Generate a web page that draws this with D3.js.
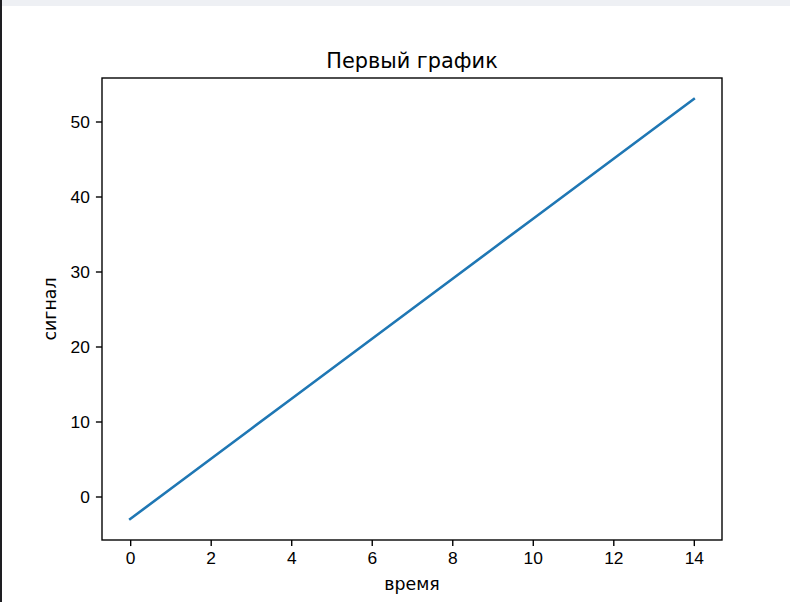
<!DOCTYPE html>
<html>
<head>
    <meta charset="utf-8">
    <title>Первый график</title>
    <style>
        body { margin: 0; background: #fff; }
        svg { display: block; font-family: "DejaVu Sans", sans-serif; }
        .axis text { font-size: 17.36px; fill: #000; }
        .axis line, .axis path { stroke: #000; stroke-width: 1.39px; }
        .frame { fill: none; stroke: #000; stroke-width: 1.39px; }
        .series { fill: none; stroke: #1f77b4; stroke-width: 2.6px; stroke-linecap: square; }
    </style>
    <script src="https://cdn.jsdelivr.net/npm/d3@7"></script>
</head>
<body>
    <svg width="790" height="602"></svg>
    <script>
        // Data
        var times = [0, 1, 2, 3, 4, 5, 6, 7, 8, 9, 10, 11, 12, 13, 14];
        var signal = [-3, 1, 5, 9, 13, 17, 21, 25, 29, 33, 37, 41, 45, 49, 53];
        var xTicks = [0, 2, 4, 6, 8, 10, 12, 14];
        var yTicks = [0, 10, 20, 30, 40, 50];

        var svg = d3.select("svg");

        // screenshot chrome: grey strip on top, dark strip on the left
        svg.append("rect").attr("x", 0).attr("y", 0).attr("width", 790).attr("height", 6).attr("fill", "#eef0f4");
        svg.append("rect").attr("x", 0).attr("y", 0).attr("width", 2).attr("height", 602).attr("fill", "#1e1e22");

        // axes box (names avoid window.top)
        var plotLeft = 102, plotRight = 722, plotTop = 78, plotBottom = 540;
        var tickLen = 6.08;

        var x = d3.scaleLinear().domain([-0.7, 14.7]).range([plotLeft, plotRight]);
        var y = d3.scaleLinear().domain([-5.8, 55.8]).range([plotBottom, plotTop]);

        var line = d3.line()
            .x(function (d, i) { return x(times[i]); })
            .y(function (d) { return y(d); });

        svg.append("path")
            .datum(signal)
            .attr("class", "series")
            .attr("d", line);

        var xAxis = svg.append("g")
            .attr("class", "axis")
            .attr("transform", "translate(0," + plotBottom + ")")
            .call(d3.axisBottom(x).tickValues(xTicks).tickSize(tickLen).tickPadding(tickLen).tickFormat(d3.format("d")));
        xAxis.select(".domain").remove();

        var yAxis = svg.append("g")
            .attr("class", "axis")
            .attr("transform", "translate(" + plotLeft + ",0)")
            .call(d3.axisLeft(y).tickValues(yTicks).tickSize(tickLen).tickPadding(tickLen).tickFormat(d3.format("d")));
        yAxis.select(".domain").remove();

        svg.append("rect")
            .attr("class", "frame")
            .attr("x", plotLeft).attr("y", plotTop)
            .attr("width", plotRight - plotLeft).attr("height", plotBottom - plotTop);

        svg.append("text")
            .attr("x", (plotLeft + plotRight) / 2).attr("y", plotTop - 10.4)
            .attr("text-anchor", "middle")
            .style("font-size", "20.83px")
            .text("Первый график");

        svg.append("text")
            .attr("x", (plotLeft + plotRight) / 2).attr("y", 590)
            .attr("text-anchor", "middle")
            .style("font-size", "17.36px")
            .text("время");

        svg.append("text")
            .attr("transform", "translate(55.5," + (plotTop + plotBottom) / 2 + ") rotate(-90)")
            .attr("text-anchor", "middle")
            .style("font-size", "17.36px")
            .text("сигнал");
    </script>
</body>
</html>
